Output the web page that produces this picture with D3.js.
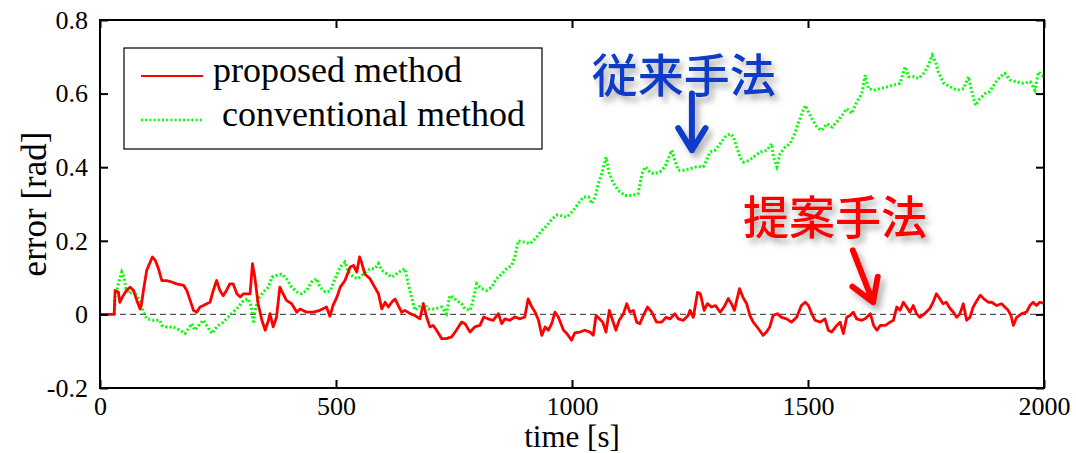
<!DOCTYPE html>
<html>
<head>
<meta charset="utf-8">
<script src="https://cdn.jsdelivr.net/npm/d3@7"></script>
<style>
  body { margin: 0; background: #fff; }
  svg text { font-family: "Liberation Serif", "Times New Roman", serif; }
  .jp { font-family: "Noto Sans CJK JP", sans-serif; font-weight: 500; }
</style>
</head>
<body>
<svg id="chart" width="1076" height="453"></svg>
<script>
// proposed method error, [time s, error rad]
const proposed = [[0,0],[30,0],[32,0.065],[39,0.061],[42,0.033],[49,0.051],[56,0.065],[64,0.074],[71,0.065],[78,0.038],[85,0.015],[88,0.029],[92,0.065],[99,0.12],[111,0.156],[117,0.147],[124,0.124],[131,0.092],[141,0.092],[152,0.088],[162,0.083],[177,0.079],[184,0.065],[191,0.038],[198,0.011],[205,0.006],[212,0.02],[219,0.024],[226,0.029],[233,0.033],[240,0.065],[247,0.092],[254,0.065],[261,0.051],[268,0.065],[275,0.083],[282,0.083],[290,0.056],[297,0.047],[304,0.056],[318,0.056],[323,0.138],[328,0.101],[335,0.029],[343,-0.016],[350,-0.043],[357,-0.016],[360,0.002],[367,-0.034],[374,-0.007],[381,0.074],[388,0.056],[395,0.038],[406,0.029],[417,0.006],[424,0.015],[438,0.006],[452,0.006],[466,0.011],[480,0.02],[487,-0.005],[494,0.025],[502,0.047],[509,0.074],[519,0.092],[530,0.129],[537,0.133],[544,0.115],[550,0.156],[554,0.142],[561,0.11],[572,0.097],[582,0.074],[590,0.056],[597,0.015],[604,0.033],[611,0.02],[618,0.033],[625,0.042],[632,0.024],[639,0.006],[646,0.011],[657,0.002],[667,-0.003],[678,-0.012],[685,0.029],[692,-0.007],[699,-0.034],[706,-0.03],[713,-0.043],[724,-0.066],[734,-0.066],[745,-0.061],[755,-0.043],[766,-0.021],[773,-0.025],[784,-0.048],[794,-0.034],[805,-0.03],[813,-0.007],[822,-0.012],[833,-0.016],[844,0.002],[851,-0.025],[858,-0.012],[868,-0.016],[879,-0.007],[890,-0.012],[900,-0.007],[907,0.042],[915,0.02],[922,0.006],[929,-0.016],[936,-0.057],[943,-0.034],[950,-0.043],[957,-0.025],[964,0.006],[971,-0.007],[978,-0.03],[982,-0.043],[989,-0.052],[999,-0.07],[1006,-0.05],[1017,-0.048],[1027,-0.043],[1038,-0.048],[1045,-0.057],[1051,-0.003],[1058,-0.012],[1065,-0.021],[1072,-0.048],[1079,0.011],[1086,-0.016],[1093,-0.043],[1100,-0.016],[1109,0.002],[1116,0.029],[1123,0.006],[1130,0.011],[1137,-0.021],[1144,-0.025],[1151,-0.003],[1160,0.02],[1169,0.006],[1179,-0.021],[1190,-0.021],[1199,-0.008],[1208,-0.012],[1218,0.002],[1225,-0.012],[1236,-0.016],[1246,-0.003],[1250,0.011],[1257,-0.008],[1266,0.06],[1272,0.056],[1280,0.011],[1287,0.029],[1296,0.02],[1304,0.024],[1314,0.006],[1322,0.02],[1331,0.043],[1338,0.029],[1344,0.011],[1349,0.038],[1355,0.07],[1362,0.047],[1370,0.029],[1377,-0.003],[1384,-0.021],[1395,-0.039],[1405,-0.057],[1412,-0.048],[1419,-0.034],[1426,-0.003],[1435,0.002],[1444,-0.008],[1455,-0.012],[1465,-0.021],[1476,-0.008],[1486,0.024],[1494,0.033],[1501,0.024],[1508,0.002],[1515,-0.016],[1526,-0.021],[1536,-0.012],[1543,-0.043],[1550,-0.048],[1561,-0.03],[1568,-0.021],[1575,-0.052],[1582,-0.008],[1589,-0.003],[1596,0.006],[1603,-0.012],[1614,-0.016],[1621,-0.012],[1632,0.002],[1639,-0.03],[1646,-0.043],[1653,-0.03],[1664,-0.03],[1674,-0.021],[1681,-0.016],[1688,0.02],[1695,0.011],[1702,0.033],[1709,0.02],[1716,0.006],[1723,0.024],[1730,0.002],[1737,-0.008],[1747,0.002],[1758,0.016],[1765,0.033],[1772,0.056],[1779,0.043],[1786,0.029],[1793,0.033],[1801,0.016],[1808,0.006],[1815,-0.008],[1822,0.002],[1829,0.029],[1836,-0.016],[1843,-0.008],[1850,0.02],[1858,0.038],[1865,0.052],[1872,0.043],[1882,0.033],[1889,0.033],[1900,0.024],[1910,0.029],[1917,0.02],[1924,0.011],[1930,-0.003],[1935,-0.03],[1942,-0.008],[1953,0.002],[1963,0.006],[1970,0.024],[1977,0.033],[1984,0.024],[1991,0.033],[2000,0.03]];

// conventional method error
const conventional = [[30,0],[32,0.047],[39,0.083],[46,0.115],[51,0.101],[55,0.07],[62,0.056],[71,0.065],[78,0.051],[85,0.038],[92,0.006],[99,-0.012],[113,-0.016],[127,-0.016],[131,-0.03],[141,-0.034],[155,-0.034],[169,-0.043],[180,-0.052],[187,-0.039],[194,-0.025],[201,-0.043],[212,-0.025],[219,-0.016],[226,-0.03],[237,-0.052],[244,-0.039],[251,-0.03],[261,-0.021],[272,-0.007],[282,0.006],[293,0.02],[304,0.038],[314,0.042],[321,0.02],[325,-0.025],[328,0.006],[335,0.042],[346,0.061],[357,0.074],[364,0.101],[374,0.106],[385,0.11],[395,0.097],[406,0.074],[417,0.061],[427,0.056],[438,0.065],[448,0.088],[459,0.097],[466,0.074],[477,0.061],[487,0.063],[498,0.097],[509,0.129],[519,0.142],[526,0.115],[537,0.101],[547,0.097],[558,0.11],[572,0.124],[582,0.124],[590,0.138],[597,0.12],[608,0.11],[618,0.101],[628,0.11],[639,0.12],[646,0.124],[653,0.083],[660,0.047],[667,0.011],[675,0.02],[685,0.029],[695,0.015],[709,0.015],[724,0.02],[734,0.002],[741,0.051],[748,0.047],[755,0.038],[766,0.029],[773,0.015],[784,0.011],[791,0.042],[798,0.083],[808,0.07],[819,0.065],[830,0.074],[840,0.097],[851,0.11],[861,0.124],[872,0.133],[879,0.156],[886,0.2],[897,0.197],[911,0.192],[925,0.21],[936,0.228],[946,0.24],[958,0.26],[968,0.27],[975,0.269],[989,0.264],[1003,0.283],[1013,0.301],[1024,0.319],[1035,0.319],[1042,0.301],[1049,0.319],[1056,0.356],[1063,0.382],[1072,0.427],[1079,0.382],[1088,0.356],[1098,0.337],[1112,0.323],[1127,0.323],[1140,0.328],[1148,0.382],[1155,0.401],[1165,0.387],[1173,0.382],[1186,0.387],[1197,0.401],[1204,0.423],[1211,0.446],[1218,0.418],[1225,0.392],[1236,0.392],[1250,0.396],[1264,0.401],[1278,0.401],[1285,0.418],[1292,0.441],[1303,0.446],[1314,0.464],[1324,0.482],[1335,0.491],[1342,0.482],[1349,0.455],[1356,0.427],[1363,0.414],[1374,0.418],[1384,0.427],[1398,0.441],[1413,0.446],[1423,0.464],[1427,0.427],[1434,0.401],[1441,0.437],[1452,0.455],[1462,0.464],[1472,0.491],[1479,0.518],[1487,0.546],[1494,0.568],[1501,0.55],[1508,0.532],[1519,0.509],[1529,0.5],[1540,0.518],[1551,0.509],[1561,0.523],[1572,0.541],[1582,0.559],[1593,0.546],[1603,0.577],[1614,0.6],[1621,0.65],[1628,0.614],[1639,0.609],[1653,0.614],[1667,0.618],[1681,0.623],[1695,0.628],[1706,0.673],[1713,0.646],[1724,0.646],[1734,0.641],[1745,0.655],[1755,0.677],[1763,0.704],[1770,0.686],[1777,0.655],[1788,0.628],[1802,0.618],[1816,0.609],[1830,0.614],[1840,0.646],[1848,0.6],[1855,0.568],[1864,0.586],[1875,0.6],[1885,0.605],[1896,0.628],[1907,0.646],[1917,0.655],[1928,0.637],[1942,0.632],[1956,0.628],[1971,0.632],[1981,0.609],[1988,0.659],[1999,0.646]];

const xTicks = [0, 500, 1000, 1500, 2000];
const xTickLabels = ['0', '500', '1000', '1500', '2000'];
const yTicks = [-0.2, 0, 0.2, 0.4, 0.6, 0.8];
const yTickLabels = ['-0.2', '0', '0.2', '0.4', '0.6', '0.8'];
const legendLabels = ['proposed method', ' conventional method'];

// annotations in data units: label position, arrow start, arrow tip
const notes = [
    { text: '従来手法', color: '#0a3cc8', at: [1237, 0.65], from: [1254, 0.6], to: [1254, 0.446] },
    { text: '提案手法', color: '#ff0000', at: [1557, 0.264], from: [1595, 0.174], to: [1638, 0.033] },
];

const svg = d3.select('#chart');
const margin = { top: 20, right: 32, bottom: 65, left: 100 };
const W = 1076, H = 453;
const w = W - margin.left - margin.right;
const h = H - margin.top - margin.bottom;

const x = d3.scaleLinear().domain([0, 2000]).range([0, w]);
const y = d3.scaleLinear().domain([-0.2, 0.8]).range([h, 0]);

const defs = svg.append('defs');
const shadow = defs.append('filter').attr('id', 'shadow')
    .attr('x', '-20%').attr('y', '-20%').attr('width', '140%').attr('height', '150%');
shadow.append('feDropShadow')
    .attr('dx', 4).attr('dy', 5).attr('stdDeviation', 3)
    .attr('flood-color', '#777').attr('flood-opacity', 0.6);

const g = svg.append('g').attr('transform', `translate(${margin.left},${margin.top})`);

// zero reference
g.append('line')
    .attr('x1', 0).attr('x2', w)
    .attr('y1', y(0)).attr('y2', y(0))
    .attr('stroke', '#555').attr('stroke-width', 1.3)
    .attr('stroke-dasharray', '6,4');

const line = d3.line().x((d) => x(d[0])).y((d) => y(d[1]));

g.append('path').datum(conventional)
    .attr('d', line)
    .attr('fill', 'none')
    .attr('stroke', '#00ff00')
    .attr('stroke-width', 3)
    .attr('stroke-dasharray', '2,2.2');

g.append('path').datum(proposed)
    .attr('d', line)
    .attr('fill', 'none')
    .attr('stroke', '#ff0000')
    .attr('stroke-width', 2.8)
    .attr('stroke-linejoin', 'round');

// axes, ticks point inward on all four sides
const styleAxis = (sel) => {
    sel.attr('font-family', null).attr('font-size', null);
    sel.select('.domain').remove();
    sel.selectAll('.tick line').attr('stroke', '#000').attr('stroke-width', 2);
    sel.selectAll('.tick text')
        .attr('fill', '#000')
        .attr('font-family', 'Liberation Serif, serif')
        .style('font-size', '26px');
};

g.append('g').attr('transform', `translate(0,${h})`)
    .call(d3.axisBottom(x).tickValues(xTicks).tickSizeInner(-8).tickSizeOuter(0).tickPadding(9)
        .tickFormat((d, i) => xTickLabels[i]))
    .call(styleAxis);
g.append('g')
    .call(d3.axisTop(x).tickValues(xTicks).tickSizeInner(-8).tickSizeOuter(0).tickFormat(''))
    .call(styleAxis);
g.append('g')
    .call(d3.axisLeft(y).tickValues(yTicks).tickSizeInner(-8).tickSizeOuter(0).tickPadding(12)
        .tickFormat((d, i) => yTickLabels[i]))
    .call(styleAxis);
g.append('g').attr('transform', `translate(${w},0)`)
    .call(d3.axisRight(y).tickValues(yTicks).tickSizeInner(-8).tickSizeOuter(0).tickFormat(''))
    .call(styleAxis);

g.append('rect')
    .attr('width', w).attr('height', h)
    .attr('fill', 'none').attr('stroke', '#000').attr('stroke-width', 2);

// axis titles
svg.append('text')
    .attr('x', margin.left + w / 2).attr('y', 447)
    .attr('text-anchor', 'middle')
    .style('font-size', '31px')
    .text('time [s]');
svg.append('text')
    .attr('transform', `translate(46,${margin.top + h / 2}) rotate(-90)`)
    .attr('text-anchor', 'middle')
    .style('font-size', '35px')
    .text('error [rad]');

// legend
const legend = g.append('g').attr('transform', 'translate(24,28)');
legend.append('rect')
    .attr('width', 418).attr('height', 101)
    .attr('fill', '#fff').attr('stroke', '#000').attr('stroke-width', 1.2);
const items = legend.selectAll('.item')
    .data([
        { label: legendLabels[0], color: '#ff0000', dash: null },
        { label: legendLabels[1], color: '#00ff00', dash: '2,2.2' },
    ])
    .enter().append('g')
    .attr('transform', (d, i) => `translate(0,${28 + i * 44})`);
items.append('line')
    .attr('x1', 17).attr('x2', 79)
    .attr('stroke', (d) => d.color)
    .attr('stroke-width', (d, i) => (i ? 2.4 : 2))
    .attr('stroke-dasharray', (d) => d.dash);
items.append('text')
    .attr('x', 89).attr('y', 6)
    .attr('xml:space', 'preserve')
    .style('white-space', 'pre')
    .style('font-size', '36px')
    .text((d) => d.label);

// annotations with arrows
const arrowHead = (p0, p1, len, ang) => {
    const a = Math.atan2(p0[1] - p1[1], p0[0] - p1[0]);
    const l = [p1[0] + len * Math.cos(a + ang), p1[1] + len * Math.sin(a + ang)];
    const r = [p1[0] + len * Math.cos(a - ang), p1[1] + len * Math.sin(a - ang)];
    return `M${p0}L${p1}M${l}L${p1}L${r}`;
};

const ann = g.append('g').attr('filter', 'url(#shadow)');
notes.forEach((n) => {
    const p0 = [x(n.from[0]), y(n.from[1])];
    const p1 = [x(n.to[0]), y(n.to[1])];
    ann.append('path')
        .attr('d', arrowHead(p0, p1, 26, 0.55))
        .attr('fill', 'none')
        .attr('stroke', n.color)
        .attr('stroke-width', 6)
        .attr('stroke-linecap', 'round')
        .attr('stroke-linejoin', 'round');
    ann.append('text')
        .attr('class', 'jp')
        .attr('x', x(n.at[0])).attr('y', y(n.at[1]))
        .attr('dy', '0.36em')
        .attr('text-anchor', 'middle')
        .attr('fill', n.color)
        .style('font-size', '46px')
        .text(n.text);
});
</script>
</body>
</html>
